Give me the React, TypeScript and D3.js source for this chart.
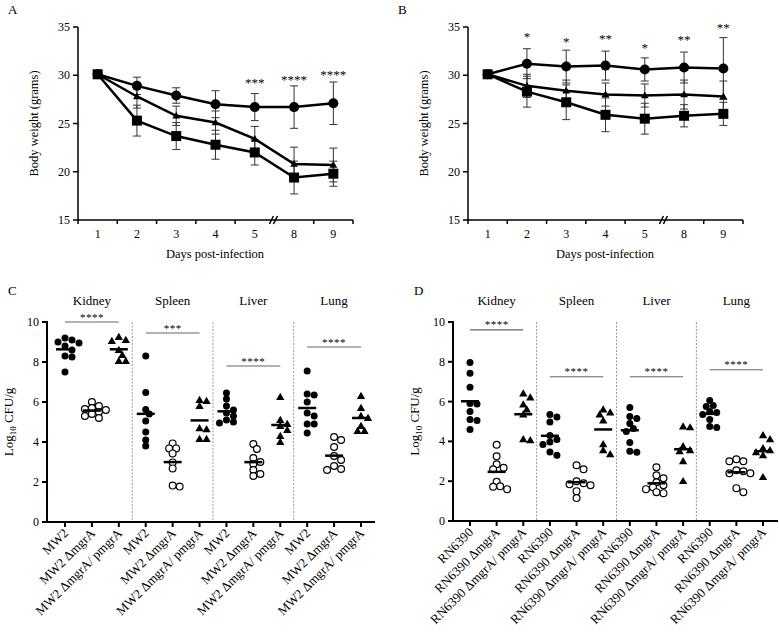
import React from "react";
import * as d3 from "d3";

// ---- body weight panels (A, B) ----
const days = ["1", "2", "3", "4", "5", "8", "9"];

const aCircle = [30.1, 28.9, 27.9, 27.0, 26.7, 26.7, 27.1];
const aCircleSd = [0, 0.9, 0.8, 1.4, 1.4, 2.2, 2.2];
const aTriangle = [30.1, 27.8, 25.8, 25.1, 23.4, 20.8, 20.7];
const aTriangleSd = [0, 1.2, 1.0, 1.2, 1.3, 1.75, 1.75];
const aSquare = [30.1, 25.3, 23.7, 22.8, 22.0, 19.4, 19.8];
const aSquareSd = [0, 1.6, 1.4, 1.5, 1.3, 1.7, 1.3];
const aStars = [
  { day: "5", label: "***", y: 29.5 },
  { day: "8", label: "****", y: 29.8 },
  { day: "9", label: "****", y: 30.3 },
];

const bCircle = [30.1, 31.2, 30.9, 31.0, 30.6, 30.8, 30.7];
const bCircleSd = [0, 1.55, 1.7, 1.5, 1.2, 1.6, 3.2];
const bTriangle = [30.1, 28.9, 28.4, 28.0, 27.9, 28.0, 27.8];
const bTriangleSd = [0, 1.2, 1.1, 1.2, 1.2, 1.5, 1.6];
const bSquare = [30.1, 28.3, 27.2, 25.9, 25.5, 25.8, 26.0];
const bSquareSd = [0, 1.6, 1.8, 1.75, 1.6, 1.15, 1.2];
const bStars = [
  { day: "2", label: "*", y: 34.3 },
  { day: "3", label: "*", y: 33.8 },
  { day: "4", label: "**", y: 34.1 },
  { day: "5", label: "*", y: 33.1 },
  { day: "8", label: "**", y: 34.0 },
  { day: "9", label: "**", y: 35.2 },
];

// ---- bacterial burden panels (C, D) ----
const organs = ["Kidney", "Spleen", "Liver", "Lung"];
const strainsC = ["MW2", "MW2 ΔmgrA", "MW2 ΔmgrA/ pmgrA"];
const strainsD = ["RN6390", "RN6390 ΔmgrA", "RN6390 ΔmgrA/ pmgrA"];

// [wild type, ΔmgrA, complemented]
const cKidney = [
  [9.2, 9.1, 9.0, 8.95, 8.8, 8.6, 8.3, 8.25, 7.5],
  [6.0, 5.8, 5.7, 5.65, 5.6, 5.5, 5.4, 5.3, 5.2],
  [9.25, 9.1, 9.05, 8.6, 8.35, 8.05, 8.05],
];
const cSpleen = [
  [8.3, 6.48, 5.63, 5.4, 5.05, 4.5, 4.1, 3.8],
  [3.93, 3.68, 3.68, 3.43, 2.98, 2.68, 1.77, 1.82],
  [6.1, 6.05, 5.8, 4.68, 4.63, 4.15, 4.15],
];
const cLiver = [
  [6.45, 6.15, 5.8, 5.6, 5.45, 5.3, 5.1, 5.0, 4.95],
  [3.9, 3.65, 3.2, 3.0, 2.9, 2.6, 2.4, 2.3],
  [6.25, 5.1, 4.9, 4.8, 4.6, 4.3, 4.0],
];
const cLung = [
  [7.55, 6.4, 6.35, 6.0, 5.45, 5.3, 4.9, 4.9, 4.45],
  [4.25, 4.1, 3.75, 3.3, 3.1, 2.8, 2.65, 2.6],
  [6.3, 5.7, 5.3, 5.2, 4.8, 4.55, 4.55],
];
const cSig = [10.0, 9.45, 7.8, 8.75];
const cSigLabels = ["****", "***", "****", "****"];

const dKidney = [
  [7.97, 7.43, 6.72, 5.9, 5.88, 5.5, 5.1, 5.05, 4.6],
  [3.83, 3.25, 2.85, 2.67, 2.6, 1.97, 1.75, 1.72, 1.6],
  [6.4, 6.2, 5.85, 5.6, 5.35, 4.1, 4.05],
];
const dSpleen = [
  [5.35, 5.22, 4.97, 4.3, 4.1, 3.97, 3.85, 3.47, 3.3],
  [2.8, 2.6, 2.0, 1.9, 1.85, 1.8, 1.5, 1.15],
  [5.6, 5.45, 5.35, 5.05, 3.85, 3.55, 3.35],
];
const dLiver = [
  [5.7, 5.25, 5.15, 4.9, 4.65, 4.5, 3.95, 3.5, 3.45],
  [2.7, 2.3, 2.15, 1.95, 1.8, 1.7, 1.6, 1.45, 1.4],
  [4.75, 4.7, 3.75, 3.55, 3.5, 3.0, 2.0],
];
const dLung = [
  [6.05, 5.8, 5.75, 5.5, 5.45, 5.35, 5.1, 4.75, 4.7],
  [3.1, 3.0, 3.0, 2.55, 2.5, 2.4, 2.4, 1.65, 1.45],
  [4.3, 4.1, 3.65, 3.55, 3.45, 3.3, 2.2],
];
const dSig = [9.6, 7.25, 7.25, 7.6];
const dSigLabels = ["****", "****", "****", "****"];

const FONT = "'Liberation Serif', 'Times New Roman', serif";

type Series = { vals: number[]; sd: number[]; shape: "circle" | "square" | "triangle" };

function Marker({ shape, x, y, big }: { shape: string; x: number; y: number; big?: boolean }) {
  if (shape === "circle") return <circle cx={x} cy={y} r={big ? 5 : 3.5} fill="#000" />;
  if (shape === "open") return <circle cx={x} cy={y} r={3.4} fill="#fff" stroke="#000" strokeWidth={1.2} />;
  if (shape === "square") return <rect x={x - 5} y={y - 5} width={10} height={10} fill="#000" />;
  const p = d3.symbol(d3.symbolTriangle, big ? 26 : 30)();
  return <path d={p || ""} transform={`translate(${x},${y + 0.5})`} fill="#000" />;
}

function LinePanel({ left, letter, series, stars }: { left: number; letter: string; series: Series[]; stars: { day: string; label: string; y: number }[] }) {
  const x = d3.scaleBand<string>().domain(days).range([left, left + 275]);
  const y = d3.scaleLinear().domain([15, 35]).range([220, 27]);
  const cx = (d: string) => (x(d) as number) + x.bandwidth() / 2;
  const line = d3.line<number>().x((_, i) => cx(days[i])).y((v) => y(v));
  const breakX = x("8") as number;
  const bounds = days.map((d) => x(d) as number).concat([left + 275]).filter((b) => b !== breakX);
  const y0 = y(15);
  return (
    <g fontFamily={FONT}>
      <text x={left - 70} y={14} fontSize={13}>{letter}</text>
      {/* y axis */}
      <line x1={left} x2={left} y1={y(35)} y2={y0} stroke="#000" strokeWidth={1.5} />
      {y.ticks(4).map((t) => (
        <g key={t}>
          <line x1={left - 5} x2={left} y1={y(t)} y2={y(t)} stroke="#000" strokeWidth={1.5} />
          <text x={left - 8} y={y(t) + 4} fontSize={12} textAnchor="end">{t}</text>
        </g>
      ))}
      {/* x axis */}
      <line x1={left} x2={left + 275} y1={y0} y2={y0} stroke="#000" strokeWidth={1.5} />
      {bounds.map((b) => (
        <line key={b} x1={b} x2={b} y1={y0} y2={y0 + 4} stroke="#000" strokeWidth={1.5} />
      ))}
      <line x1={breakX - 5} y1={y0 + 4} x2={breakX - 1} y2={y0 - 4} stroke="#000" strokeWidth={1.5} />
      <line x1={breakX - 1} y1={y0 + 4} x2={breakX + 3} y2={y0 - 4} stroke="#000" strokeWidth={1.5} />
      {days.map((d) => (
        <text key={d} x={cx(d)} y={y0 + 18} fontSize={12} textAnchor="middle">{d}</text>
      ))}
      <text x={left + 137} y={y0 + 38} fontSize={12.5} textAnchor="middle">Days post-infection</text>
      <text transform={`translate(${left - 40},${(y(35) + y0) / 2}) rotate(-90)`} fontSize={12.5} textAnchor="middle">
        Body weight (grams)
      </text>
      {/* error bars */}
      {series.map((s, si) =>
        s.vals.map((v, i) =>
          s.sd[i] > 0 ? (
            <g key={`e${si}-${i}`} stroke="#333" strokeWidth={1}>
              <line x1={cx(days[i])} x2={cx(days[i])} y1={y(v - s.sd[i])} y2={y(v + s.sd[i])} />
              <line x1={cx(days[i]) - 4} x2={cx(days[i]) + 4} y1={y(v + s.sd[i])} y2={y(v + s.sd[i])} />
              <line x1={cx(days[i]) - 4} x2={cx(days[i]) + 4} y1={y(v - s.sd[i])} y2={y(v - s.sd[i])} />
            </g>
          ) : null
        )
      )}
      {series.map((s, si) => (
        <path key={`l${si}`} d={line(s.vals) || ""} fill="none" stroke="#000" strokeWidth={2.5} />
      ))}
      {series.map((s, si) =>
        s.vals.map((v, i) => <Marker key={`m${si}-${i}`} shape={s.shape} x={cx(days[i])} y={y(v)} big />)
      )}
      <g opacity={0.99}>
        {stars.map((s) => (
          <text key={s.day} x={cx(s.day)} y={y(s.y) + 7} fontSize={13} fill="#000" textAnchor="middle">{s.label}</text>
        ))}
      </g>
    </g>
  );
}

function swarm(values: number[], cx: number, y: (v: number) => number) {
  const placed: { x: number; y: number }[] = [];
  const order = values.map((v, i) => ({ v, i })).sort((a, b) => b.v - a.v);
  const out: { x: number; y: number }[] = new Array(values.length);
  for (const { v, i } of order) {
    const py = y(v);
    let px = cx;
    for (let k = 0; k < 12; k++) {
      const off = k === 0 ? 0 : (k % 2 ? 1 : -1) * Math.ceil(k / 2) * 3.5;
      const cand = cx + off;
      if (placed.every((p) => Math.hypot(p.x - cand, p.y - py) >= 5.5)) {
        px = cand;
        break;
      }
    }
    placed.push({ x: px, y: py });
    out[i] = { x: px, y: py };
  }
  return out;
}

function ScatterPanel({ left, right, first, last, bottom, letter, strains, data, sig, sigLabels }: {
  left: number; right: number; first: number; last: number; bottom: number; letter: string;
  strains: string[]; data: number[][][]; sig: number[]; sigLabels: string[];
}) {
  const cats = d3.range(12);
  const x = d3.scalePoint<number>().domain(cats).range([first, last]);
  const y = d3.scaleLinear().domain([0, 10]).range([bottom, 322]);
  const shapes = ["circle", "open", "triangle"];
  return (
    <g fontFamily={FONT}>
      <text x={left - 39} y={295} fontSize={13}>{letter}</text>
      {organs.map((o, oi) => (
        <text key={o} x={x(oi * 3 + 1)} y={305} fontSize={13} textAnchor="middle">{o}</text>
      ))}
      {[1, 2, 3].map((k) => {
        const sx = ((x(k * 3 - 1) as number) + (x(k * 3) as number)) / 2;
        return <line key={k} x1={sx} x2={sx} y1={y(10)} y2={y(0)} stroke="#999" strokeWidth={1} strokeDasharray="2,1.5" />;
      })}
      {/* axes */}
      <line x1={left} x2={left} y1={y(10) - 1} y2={bottom} stroke="#000" strokeWidth={2} />
      <line x1={left} x2={right} y1={bottom} y2={bottom} stroke="#000" strokeWidth={2} />
      {y.ticks(5).map((t) => (
        <g key={t}>
          <line x1={left - 5} x2={left} y1={y(t)} y2={y(t)} stroke="#000" strokeWidth={2} />
          <text x={left - 8} y={y(t) + 4} fontSize={12} textAnchor="end">{t}</text>
        </g>
      ))}
      {cats.map((c) => (
        <g key={c}>
          <line x1={x(c)} x2={x(c)} y1={bottom} y2={bottom + 5} stroke="#000" strokeWidth={2} />
          <text transform={`translate(${(x(c) as number) + 4},${bottom + 12}) rotate(-45)`} fontSize={13} textAnchor="end">
            {strains[c % 3]}
          </text>
        </g>
      ))}
      <text transform={`translate(${left - 34},${(y(10) + bottom) / 2}) rotate(-90)`} fontSize={13} textAnchor="middle">
        Log<tspan fontSize={9} dy={3}>10</tspan><tspan dy={-3}> CFU/g</tspan>
      </text>
      {/* significance bars */}
      {sig.map((s, oi) => (
        <g key={oi}>
          <line x1={x(oi * 3)} x2={x(oi * 3 + 2)} y1={y(s)} y2={y(s)} stroke="#666" strokeWidth={1.2} />
          <text x={((x(oi * 3) as number) + (x(oi * 3 + 2) as number)) / 2} y={y(s) - 1.5} fontSize={11} fill="#000" opacity={0.99} textAnchor="middle" letterSpacing={0.5}>
            {sigLabels[oi]}
          </text>
        </g>
      ))}
      {/* points and means */}
      {data.map((organ, oi) =>
        organ.map((vals, si) => {
          const c = x(oi * 3 + si) as number;
          const pts = swarm(vals, c, y);
          const m = d3.mean(vals) as number;
          return (
            <g key={`${oi}-${si}`}>
              {pts.map((p, pi) => (
                <Marker key={pi} shape={shapes[si]} x={p.x} y={p.y} />
              ))}
              <line x1={c - 9} x2={c + 9} y1={y(m)} y2={y(m)} stroke="#000" strokeWidth={2.5} />
            </g>
          );
        })
      )}
    </g>
  );
}

export default function App() {
  const seriesA: Series[] = [
    { vals: aCircle, sd: aCircleSd, shape: "circle" },
    { vals: aTriangle, sd: aTriangleSd, shape: "triangle" },
    { vals: aSquare, sd: aSquareSd, shape: "square" },
  ];
  const seriesB: Series[] = [
    { vals: bCircle, sd: bCircleSd, shape: "circle" },
    { vals: bTriangle, sd: bTriangleSd, shape: "triangle" },
    { vals: bSquare, sd: bSquareSd, shape: "square" },
  ];
  return (
    <svg width={779} height={637} style={{ position: "absolute", left: 0, top: 0, background: "#fff" }}>
      <LinePanel left={78} letter="A" series={seriesA} stars={aStars} />
      <LinePanel left={468} letter="B" series={seriesB} stars={bStars} />
      <ScatterPanel left={47} right={375} first={65} last={361} bottom={522} letter="C"
        strains={strainsC} data={[cKidney, cSpleen, cLiver, cLung]} sig={cSig} sigLabels={cSigLabels} />
      <ScatterPanel left={453} right={778} first={470} last={763} bottom={521} letter="D"
        strains={strainsD} data={[dKidney, dSpleen, dLiver, dLung]} sig={dSig} sigLabels={dSigLabels} />
    </svg>
  );
}
